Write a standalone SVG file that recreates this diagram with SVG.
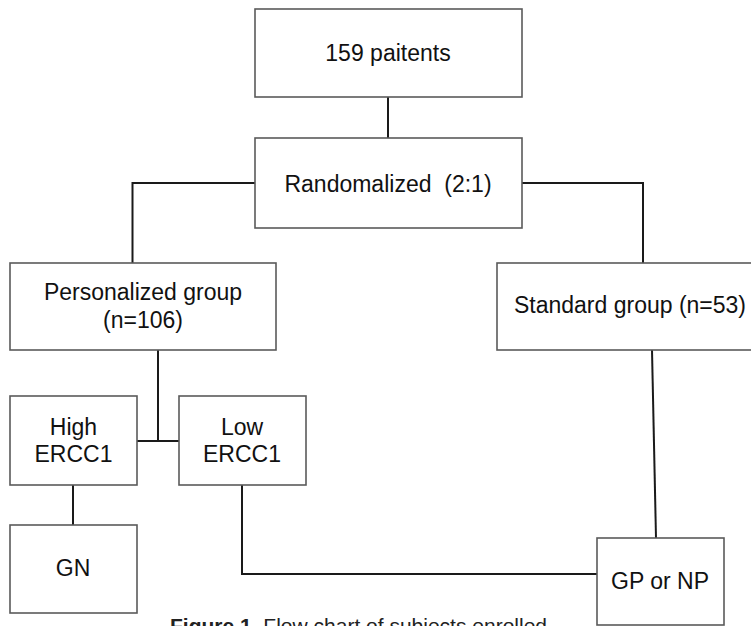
<svg xmlns="http://www.w3.org/2000/svg" width="751" height="626" viewBox="0 0 751 626">
<style>
.box{fill:#fff;stroke:#5a5a5a;stroke-width:1.6}
.t{font-family:"Liberation Sans",Arial,sans-serif;font-size:23px;fill:#111;text-anchor:middle;white-space:pre}
.c{fill:none;stroke:#1a1a1a;stroke-width:2}
.cap{font-family:"Liberation Sans",Arial,sans-serif;font-size:21px;fill:#222}
</style>
<rect width="751" height="626" fill="#fff"/>
<g id="connectors">
<path class="c" d="M388,97V138"/>
<path class="c" d="M255,183H132.5V263"/>
<path class="c" d="M522,183H643V263"/>
<path class="c" d="M158,350V441M137,441H179"/>
<path class="c" d="M73,485V525"/>
<path class="c" d="M242,485V574H597"/>
<path class="c" d="M652,350L656,538"/>
</g>
<g id="n-patients"><rect class="box" x="255" y="9" width="267" height="88"/><text class="t" x="388" y="61">159 paitents</text></g>
<g id="n-random"><rect class="box" x="255" y="138" width="267" height="90"/><text class="t" x="388" y="192" xml:space="preserve">Randomalized  (2:1)</text></g>
<g id="n-personal"><rect class="box" x="10" y="263" width="266" height="87"/><text class="t" x="143" y="300">Personalized group</text><text class="t" x="143" y="328">(n=106)</text></g>
<g id="n-standard"><rect class="box" x="497" y="263" width="260" height="87"/><text class="t" x="630" y="313">Standard group (n=53)</text></g>
<g id="n-high"><rect class="box" x="10" y="396" width="127" height="89"/><text class="t" x="73.5" y="435">High</text><text class="t" x="73.5" y="462">ERCC1</text></g>
<g id="n-low"><rect class="box" x="179" y="396" width="127" height="89"/><text class="t" x="242" y="435">Low</text><text class="t" x="242" y="462">ERCC1</text></g>
<g id="n-gn"><rect class="box" x="10" y="525" width="127" height="88"/><text class="t" x="73" y="576">GN</text></g>
<g id="n-gp"><rect class="box" x="597" y="538" width="127" height="87"/><text class="t" x="660" y="589">GP or NP</text></g>
<text class="cap" x="170" y="633"><tspan font-weight="bold">Figure 1.</tspan> Flow chart of subjects enrolled</text>
</svg>
